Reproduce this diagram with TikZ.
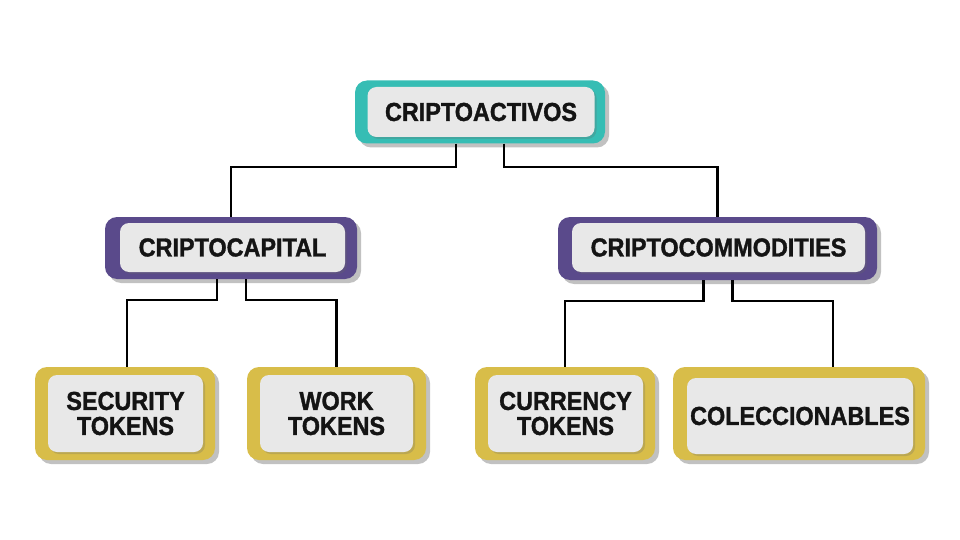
\documentclass[tikz,border=0pt]{standalone}
\usepackage{fontspec}
\setmainfont{Liberation Sans}[FakeStretch=0.9, BoldFeatures={FakeStretch=0.9, FakeBold=1.3}]
\usepackage{xcolor}
\usetikzlibrary{shadows}
\definecolor{tealbox}{HTML}{36BDB4}
\definecolor{purplebox}{HTML}{5A4A8B}
\definecolor{goldbox}{HTML}{D8BD49}
\definecolor{innergray}{HTML}{E8E8E8}
\definecolor{inktext}{HTML}{141414}

\begin{document}
\begin{tikzpicture}[x=1pt, y=-1pt,
    outerbox/.style={fill=#1, rounded corners=12pt, inner sep=0pt,
        drop shadow={shadow xshift=4pt, shadow yshift=-4pt, opacity=0.35, fill=black!70}},
    innerbox/.style={fill=innergray, rounded corners=9pt, inner sep=0pt, align=center,
        text=inktext, font=\fontsize{26}{25}\selectfont\bfseries,
        drop shadow={shadow xshift=2pt, shadow yshift=-2pt, opacity=0.25, fill=black!60}},
    link/.style={line width=2.2pt, draw=black}]
            \useasboundingbox (0,0) rectangle (960,540);

            \node[outerbox=tealbox, minimum width=250, minimum height=63] (top) at (480,112) {};
            \node[innerbox, minimum width=227, minimum height=50] (topt) at (481,112) {CRIPTOACTIVOS};

            \node[outerbox=purplebox, minimum width=252, minimum height=62] (cap) at (231,248) {};
            \node[innerbox, minimum width=225, minimum height=49] (capt) at (232.5,247.5) {CRIPTOCAPITAL};

            \node[outerbox=purplebox, minimum width=319, minimum height=63] (com) at (717.5,248.5) {};
            \node[innerbox, minimum width=293, minimum height=49] (comt) at (718.5,247.5) {CRIPTOCOMMODITIES};

            \node[outerbox=goldbox, minimum width=180, minimum height=93] (sec) at (125,413.5) {};
            \node[innerbox, minimum width=155, minimum height=77] (sect) at (125.5,413.5) {SECURITY\\TOKENS};

            \node[outerbox=goldbox, minimum width=179, minimum height=93] (work) at (336.5,413.5) {};
            \node[innerbox, minimum width=153, minimum height=77] (workt) at (336.5,413.5) {WORK\\TOKENS};

            \node[outerbox=goldbox, minimum width=180, minimum height=93] (cur) at (565,413.5) {};
            \node[innerbox, minimum width=155, minimum height=77] (curt) at (565.5,413.5) {CURRENCY\\TOKENS};

            \node[outerbox=goldbox, minimum width=252, minimum height=93] (col) at (799,413.5) {};
            \node[innerbox, minimum width=226, minimum height=76] (colt) at (800,416) {COLECCIONABLES};

            \draw[link] ([xshift=-24pt]top.south) -- ++(0,23) -| (cap.north);
            \draw[link] ([xshift=24pt]top.south) -- ++(0,23) -| (com.north);

            \draw[link] ([xshift=-14pt]cap.south) -- ++(0,21) -| ([xshift=2pt]sec.north);
            \draw[link] ([xshift=15pt]cap.south) -- ++(0,21) -| (work.north);

            \draw[link] ([xshift=-14pt]com.south) -- ++(0,21) -| (cur.north);
            \draw[link] ([xshift=15pt]com.south) -- ++(0,21) -| ([xshift=34pt]col.north);
        \end{tikzpicture}
\end{document}
